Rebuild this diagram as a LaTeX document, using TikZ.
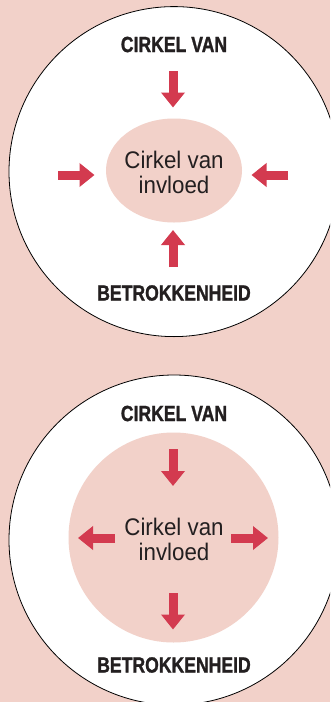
\documentclass[tikz,border=0pt]{standalone}
\usepackage{fontspec}
\newfontfamily\ringfont[FakeStretch=0.80, FakeBold=1.2]{Liberation Sans}
\newfontfamily\blobfont[FakeStretch=0.93]{Liberation Sans}
\usetikzlibrary{arrows.meta, shapes.geometric}

\definecolor{rosebg}{HTML}{F2D1C9}
\definecolor{pushred}{HTML}{D33A4F}
\definecolor{ink}{HTML}{231F20}

\tikzset{
	ring/.style={circle, draw=black, line width=0.8pt, fill=white, minimum size=330pt, inner sep=0pt},
	ringlabel/.style={font=\ringfont\bfseries\fontsize{22}{22}\selectfont, text=ink, inner sep=0pt},
	blob/.style={fill=rosebg, inner sep=0pt},
	blobtext/.style={font=\blobfont\fontsize{24}{25}\selectfont, text=ink, align=center, inner sep=0pt},
	pusharrow/.style={draw=pushred, line width=9pt, -{Triangle[width=23pt,length=15pt]}, pushred},
}

\begin{document}
\begin{tikzpicture}[x=1pt, y=-1pt]

		\fill[rosebg] (0,0) rectangle (330,702);
		\useasboundingbox (0,0) rectangle (330,702);
		\clip (0,0) rectangle (330,702);

		% bovenste cirkel
		\node[ring] (ring1) at (174,171.6) {};
		\node[blob, ellipse, minimum width=136pt, minimum height=104pt] (blob1) at (174,170.5) {};
		\node[blobtext] (blob1txt) at (174,172.5) {Cirkel van\\invloed};
		\node[ringlabel] (top1) at (174,44.5) {CIRKEL VAN};
		\node[ringlabel] (bot1) at (174,293) {BETROKKENHEID};

		\coordinate (n1-s) at (173,71);    \coordinate (n1-e) at (173,107.5);
		\coordinate (w1-s) at (58,175);    \coordinate (w1-e) at (94.5,175);
		\coordinate (e1-s) at (288,175);   \coordinate (e1-e) at (251.5,175);
		\coordinate (s1-s) at (173,267);   \coordinate (s1-e) at (173,230);

		% onderste cirkel
		\node[ring] (ring2) at (174,540) {};
		\node[blob, circle, minimum size=210pt] (blob2) at (173.5,537.5) {};
		\node[blobtext] (blob2txt) at (174,539.5) {Cirkel van\\invloed};
		\node[ringlabel] (top2) at (174,413.5) {CIRKEL VAN};
		\node[ringlabel] (bot2) at (174,665) {BETROKKENHEID};

		\coordinate (n2-s) at (173,449);   \coordinate (n2-e) at (173,486);
		\coordinate (s2-s) at (173,593);   \coordinate (s2-e) at (173,629.5);
		\coordinate (w2-s) at (115,538);   \coordinate (w2-e) at (78,538);
		\coordinate (e2-s) at (231,538);   \coordinate (e2-e) at (268,538);

		\foreach \a in {n1,w1,e1,s1,n2,s2,w2,e2}
			\draw[pusharrow] (\a-s) -- (\a-e);

	\end{tikzpicture}
\end{document}
